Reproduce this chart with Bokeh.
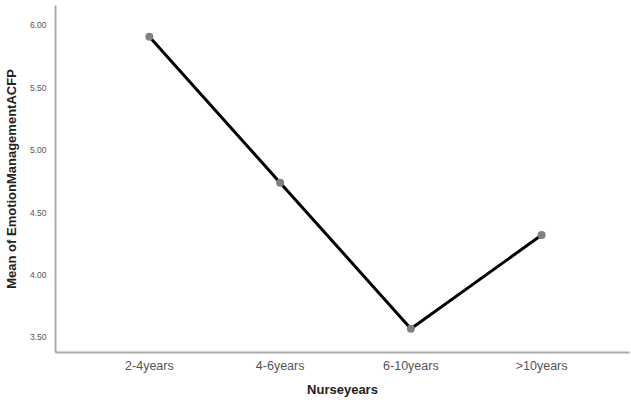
from bokeh.plotting import figure
from bokeh.models import Range1d, FixedTicker, CustomJSTickFormatter
from bokeh.embed import file_html
from bokeh.resources import INLINE

categories = ["2-4years", "4-6years", "6-10years", ">10years"]
means = [5.91, 4.74, 3.57, 4.32]
y_ticks = [3.5, 4.0, 4.5, 5.0, 5.5, 6.0]

x_idx = list(range(len(categories)))

p = figure(width=630, height=399, x_range=Range1d(-0.718, 3.672),
           y_range=Range1d(3.379, 6.16), output_backend="svg", toolbar_location=None,
           min_border_left=0, min_border_right=1, min_border_top=5, min_border_bottom=0)
p.outline_line_color = None
p.xgrid.visible = False
p.ygrid.visible = False

p.line(x_idx, means, line_color="black", line_width=3)
p.scatter(x_idx, means, size=8, fill_color="#808080", line_color=None)

for ax in (p.xaxis[0], p.yaxis[0]):
    ax.axis_line_color = "#aaaaaa"
    ax.axis_line_width = 2
    ax.major_tick_line_color = None
    ax.minor_tick_line_color = None
    ax.major_label_text_font = "Liberation Sans"
    ax.major_label_text_color = "#555555"
    ax.axis_label_text_font = "Liberation Sans"
    ax.axis_label_text_font_style = "bold"
    ax.axis_label_text_color = "#222222"
    ax.axis_label_text_font_size = "13px"

p.yaxis.ticker = FixedTicker(ticks=y_ticks)
p.yaxis.formatter = CustomJSTickFormatter(code="return tick.toFixed(2);")
p.yaxis.major_label_text_font_size = "8.5px"
p.yaxis.major_label_standoff = 3
p.yaxis.axis_label = "Mean of EmotionManagementACFP"
p.yaxis.axis_label_standoff = 8

p.xaxis.ticker = FixedTicker(ticks=x_idx)
p.xaxis.major_label_overrides = {i: c for i, c in zip(x_idx, categories)}
p.xaxis.major_label_text_font_size = "12.5px"
p.xaxis.major_label_standoff = 0
p.xaxis.axis_label = "Nurseyears"
p.xaxis.axis_label_standoff = 6

open("out.html", "w").write(file_html(p, INLINE))
